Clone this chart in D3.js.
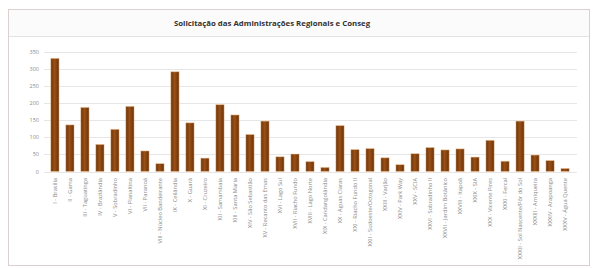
<!DOCTYPE html>
<html>
<head>
<meta charset="utf-8">
<script src="https://cdn.jsdelivr.net/npm/d3@7"></script>
<style>
  body { margin: 0; background: #fff; }
  svg { display: block; font-family: "Open Sans", "Liberation Sans", sans-serif; }
</style>
</head>
<body>
<div id="chart"></div>
<script>
const W = 593, H = 268

const title = 'Solicitação das Administrações Regionais e Conseg'

const regions = [
  'I - Brasília', 'II - Gama', 'III - Taguatinga', 'IV - Brazlândia', 'V - Sobradinho',
  'VI - Planaltina', 'VII - Paranoá', 'VIII - Núcleo Bandeirante', 'IX - Ceilândia', 'X - Guará',
  'XI - Cruzeiro', 'XII - Samambaia', 'XIII - Santa Maria', 'XIV - São Sebastião', 'XV - Recanto das Emas',
  'XVI - Lago Sul', 'XVII - Riacho Fundo', 'XVIII - Lago Norte', 'XIX - Candangolândia', 'XX - Águas Claras',
  'XXI - Riacho Fundo II', 'XXII - Sudoeste/Octogonal', 'XXIII - Varjão', 'XXIV - Park Way', 'XXV - SCIA',
  'XXVI - Sobradinho II', 'XXVII - Jardim Botânico', 'XXVIII - Itapoã', 'XXIX - SIA', 'XXX - Vicente Pires',
  'XXXI - Fercal', 'XXXII - Sol Nascente/Pôr do Sol', 'XXXIII - Arniqueira', 'XXXIV - Arapoanga', 'XXXV - Água Quente'
]

const requests = [
  330, 136, 187, 79, 123,
  190, 60, 23, 291, 142,
  39, 195, 165, 108, 147,
  43, 51, 29, 12, 134,
  64, 67, 40, 20, 52,
  70, 63, 66, 42, 91,
  30, 147, 48, 32, 9
]

const yTicks = [0, 50, 100, 150, 200, 250, 300, 350]

const svg = d3.select('#chart')
  .append('svg')
  .attr('width', W)
  .attr('height', H)

// gradient for the bars (darker edges)
const grad = svg.append('defs').append('linearGradient')
  .attr('id', 'barGrad')
  .attr('x1', '0%').attr('x2', '100%')
grad.append('stop').attr('offset', '0%').attr('stop-color', '#6a3209')
grad.append('stop').attr('offset', '45%').attr('stop-color', '#9a5016')
grad.append('stop').attr('offset', '100%').attr('stop-color', '#6a3209')

// outer frame + title band
svg.append('rect')
  .attr('x', 8.5).attr('y', 9.5)
  .attr('width', 581).attr('height', 256)
  .attr('fill', '#fff')
  .attr('stroke', '#dccfcf')
svg.append('rect')
  .attr('x', 9).attr('y', 10)
  .attr('width', 580).attr('height', 26)
  .attr('fill', '#fbfbfb')
svg.append('line')
  .attr('x1', 9).attr('x2', 589)
  .attr('y1', 36.5).attr('y2', 36.5)
  .attr('stroke', '#e2e2e2')

svg.append('text')
  .attr('x', 272).attr('y', 26)
  .attr('text-anchor', 'middle')
  .attr('font-size', 7.8)
  .attr('font-weight', 'bold')
  .attr('fill', '#333')
  .text(title)

const x = d3.scaleBand()
  .domain(regions)
  .range([47.5, 572.5])
  .paddingInner(0.45)
  .paddingOuter(0.22)

const y = d3.scaleLinear()
  .domain([0, 350])
  .range([171.5, 51.5])

// gridlines
svg.append('g')
  .selectAll('line')
  .data(yTicks)
  .join('line')
  .attr('x1', 44).attr('x2', 577)
  .attr('y1', d => Math.round(y(d)) + 0.5)
  .attr('y2', d => Math.round(y(d)) + 0.5)
  .attr('stroke', '#e6e6e6')

// y tick labels
svg.append('g')
  .selectAll('text')
  .data(yTicks)
  .join('text')
  .attr('x', 39)
  .attr('y', d => y(d) + 2)
  .attr('text-anchor', 'end')
  .attr('font-size', 5.5)
  .attr('fill', '#8a8a8a')
  .text(d => d)

// bars
svg.append('g')
  .selectAll('rect')
  .data(regions.map((r, i) => ({ name: r, value: requests[i] })))
  .join('rect')
  .attr('x', d => x(d.name))
  .attr('y', d => y(d.value))
  .attr('width', x.bandwidth())
  .attr('height', d => y(0) - y(d.value))
  .attr('fill', 'url(#barGrad)')
  .attr('stroke', '#f4c89a')
  .attr('stroke-opacity', 0.6)
  .attr('stroke-width', 0.8)

// x labels, rotated
svg.append('g')
  .selectAll('text')
  .data(regions)
  .join('text')
  .attr('transform', d => `translate(${x(d) + x.bandwidth() / 2 + 2},178) rotate(-90)`)
  .attr('text-anchor', 'end')
  .attr('font-size', 5.7)
  .attr('fill', '#8a8a8a')
  .text(d => d)
</script>
</body>
</html>
